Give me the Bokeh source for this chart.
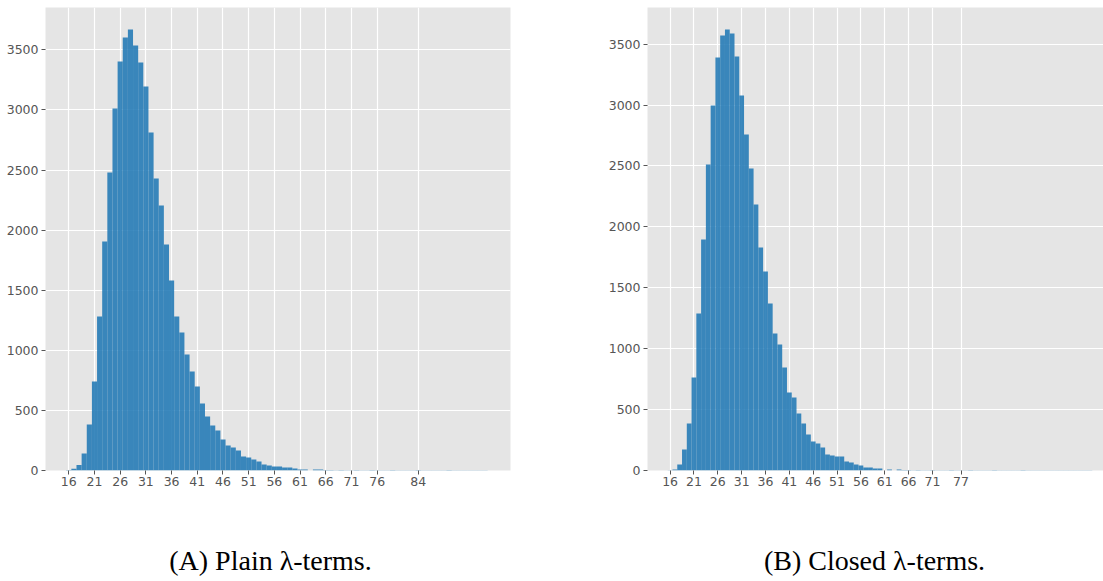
from bokeh.plotting import figure
from bokeh.models import Range1d, FixedTicker
from bokeh.layouts import column, row
from bokeh.embed import file_html
from bokeh.resources import INLINE
from bokeh.core.properties import value

# ---- data ----
plain_sizes = list(range(16, 98))
plain_counts = [5, 15, 45, 141, 383, 740, 1281, 1905, 2479, 3012,
                3402, 3602, 3669, 3536, 3394, 3194, 2812, 2429, 2205, 1880,
                1581, 1281, 1148, 965, 824, 699, 557, 449, 374, 333,
                258, 208, 191, 166, 116, 108, 92, 75, 50, 41,
                33, 33, 25, 25, 17, 8, 8, 1, 8, 8,
                4, 4, 3, 4, 3, 3, 4, 3, 3, 4,
                3, 3, 3, 4, 3, 3, 3, 3, 4, 3,
                3, 3, 3, 3, 4, 3, 3, 3, 3, 3,
                3, 3]

closed_sizes = list(range(16, 105))
closed_counts = [3, 8, 49, 172, 386, 764, 1289, 1897, 2512, 2997,
                 3391, 3571, 3621, 3588, 3399, 3079, 2759, 2479, 2184, 1831,
                 1634, 1371, 1125, 1034, 846, 640, 599, 468, 386, 296,
                 238, 222, 189, 131, 123, 115, 115, 74, 66, 49,
                 41, 25, 25, 16, 16, 1, 8, 1, 8, 4,
                 4, 3, 4, 3, 3, 4, 3, 3, 3, 4,
                 3, 3, 3, 4, 3, 3, 3, 3, 4, 3,
                 3, 3, 3, 3, 4, 3, 3, 3, 3, 3,
                 3, 3, 3, 3, 3, 3, 3, 3, 3]

plain_ticks = [16, 21, 26, 31, 36, 41, 46, 51, 56, 61, 66, 71, 76, 84]
closed_ticks = [16, 21, 26, 31, 36, 41, 46, 51, 56, 61, 66, 71, 77]
count_ticks = [0, 500, 1000, 1500, 2000, 2500, 3000, 3500]
captions = ["(A) Plain \u03bb-terms.", "(B) Closed \u03bb-terms."]

BAR = "#1f77b4"
BG = "#E5E5E5"
TXT = "#555555"


def make_hist(sizes, counts, xticks, xr, yr, width, b_left, b_right):
    p = figure(width=width, height=496, x_range=Range1d(*xr), y_range=Range1d(*yr),
               output_backend="svg", toolbar_location=None, title=None,
               min_border_left=b_left, min_border_right=b_right,
               min_border_top=7, min_border_bottom=26,
               background_fill_color=BG, border_fill_color="white",
               outline_line_color=None)
    p.vbar(x=sizes, top=counts, bottom=0, width=1.0,
           fill_color=BAR, fill_alpha=0.87, line_color=None)
    p.xaxis.ticker = FixedTicker(ticks=xticks)
    p.yaxis.ticker = FixedTicker(ticks=count_ticks)
    p.grid.grid_line_color = "white"
    p.grid.grid_line_width = 1.2
    p.axis.axis_line_color = None
    p.axis.major_tick_line_color = TXT
    p.axis.major_tick_out = 4
    p.axis.major_tick_in = 0
    p.axis.minor_tick_line_color = None
    p.axis.major_label_text_font = "DejaVu Sans"
    p.axis.major_label_text_font_size = "12.5px"
    p.axis.major_label_text_color = TXT
    p.xaxis.major_label_standoff = 2
    p.yaxis.major_label_standoff = 3
    return p


p_plain = make_hist(plain_sizes, plain_counts, plain_ticks,
                    (11.47, 101.94), (0, 3852), 560, 45, 50)
p_closed = make_hist(closed_sizes, closed_counts, closed_ticks,
                     (11.26, 106.86), (0, 3801), 543, 87, 0)

cap = figure(width=1103, height=85, x_range=Range1d(0, 1103), y_range=Range1d(0, 85),
             output_backend="svg", toolbar_location=None, min_border=0,
             outline_line_color=None, x_axis_type=None, y_axis_type=None)
cap.text(x=[270, 874], y=[21, 21], text=captions,
         text_font=value("Liberation Serif"), text_font_size="28px",
         text_align="center", text_baseline="middle", text_color="black")

layout = column(row(p_plain, p_closed), cap)
open("out.html", "w").write(file_html(layout, INLINE))
